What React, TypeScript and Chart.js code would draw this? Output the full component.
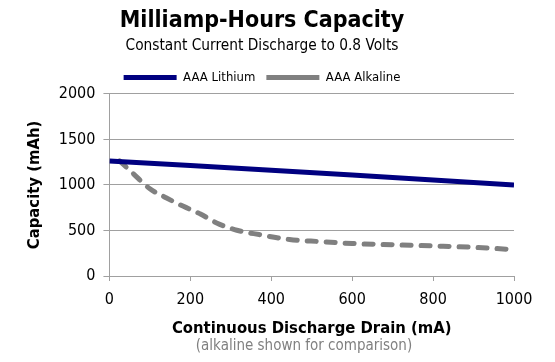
import React, { useEffect, useRef } from "react";
import { Chart, registerables } from "chart.js";

Chart.register(...registerables);

const lithiumDrain = [0, 200, 400, 600, 800, 1000];
const lithiumCapacity = [1263, 1213, 1163, 1110, 1055, 1000];

const alkalineDrain = [25, 60, 100, 140, 183, 225, 265, 315, 370, 445, 520, 600, 700, 800, 900, 1000];
const alkalineCapacity = [1265, 1120, 958, 860, 765, 680, 583, 503, 455, 401, 378, 357, 343, 330, 315, 290];

const yTicks = [0, 500, 1000, 1500, 2000];
const xTicks = [0, 200, 400, 600, 800, 1000];

const FONT = "'DejaVu Sans Condensed', 'DejaVu Sans', sans-serif";

export default function App() {
  const ref = useRef<HTMLCanvasElement | null>(null);

  useEffect(() => {
    if (!ref.current) return;
    const footnote = {
      id: "footnote",
      afterDraw(chart: any) {
        const ctx = chart.ctx;
        ctx.save();
        ctx.font = `15px ${FONT}`;
        ctx.fillStyle = "#808080";
        ctx.textAlign = "center";
        ctx.textBaseline = "middle";
        ctx.fillText("(alkaline shown for comparison)", 304, chart.height - 16);
        ctx.restore();
      },
    };
    const chart = new Chart(ref.current, {
      type: "line",
      data: {
        datasets: [
          {
            label: "AAA Lithium",
            data: lithiumDrain.map((x, i) => ({ x, y: lithiumCapacity[i] })),
            borderColor: "#000080",
            backgroundColor: "#000080",
            borderWidth: 5,
            pointRadius: 0,
            tension: 0,
          },
          {
            label: "AAA Alkaline",
            data: alkalineDrain.map((x, i) => ({ x, y: alkalineCapacity[i] })),
            borderColor: "#808080",
            backgroundColor: "#808080",
            borderWidth: 5,
            borderDash: [9, 10],
            borderCapStyle: "round",
            pointRadius: 0,
            cubicInterpolationMode: "monotone",
          },
        ],
      },
      options: {
        animation: false,
        responsive: false,
        maintainAspectRatio: false,
        layout: { padding: { left: 10, right: 41, top: 4, bottom: 23 } },
        plugins: {
          title: {
            display: true,
            text: "Milliamp-Hours Capacity",
            color: "#000",
            font: { family: FONT, size: 23, weight: "bold" },
            padding: { top: 3, bottom: 0 },
          },
          subtitle: {
            display: true,
            text: "Constant Current Discharge to 0.8 Volts",
            color: "#000",
            font: { family: FONT, size: 15.3 },
            padding: { top: 2, bottom: 5 },
          },
          legend: {
            display: true,
            position: "top",
            labels: {
              usePointStyle: true,
              pointStyle: "line",
              pointStyleWidth: 53,
              boxHeight: 14,
              color: "#000",
              font: { family: FONT, size: 13 },
              padding: 11,
            },
          },
          tooltip: { enabled: false },
        },
        scales: {
          x: {
            type: "linear",
            min: 0,
            max: 1000,
            afterBuildTicks: (axis: any) => {
              axis.ticks = xTicks.map((v) => ({ value: v }));
            },
            grid: {
              drawOnChartArea: false,
              drawTicks: true,
              tickLength: 5,
              color: "#a0a0a0",
            },
            border: { display: true, color: "#a0a0a0", width: 1 },
            ticks: {
              color: "#000",
              font: { family: FONT, size: 16 },
              padding: 9,
              maxRotation: 0,
              callback: (v: any) => String(v),
            },
            title: {
              display: true,
              text: "Continuous Discharge Drain (mA)",
              color: "#000",
              font: { family: FONT, size: 16.5, weight: "bold" },
              padding: { top: 1, bottom: 0 },
            },
          },
          y: {
            type: "linear",
            min: 0,
            max: 2000,
            afterBuildTicks: (axis: any) => {
              axis.ticks = yTicks.map((v) => ({ value: v }));
            },
            grid: {
              drawTicks: true,
              tickLength: 6,
              color: "#a0a0a0",
            },
            border: { display: true, color: "#a0a0a0", width: 1 },
            ticks: {
              color: "#000",
              font: { family: FONT, size: 16 },
              padding: 8,
              callback: (v: any) => String(v),
            },
            title: {
              display: true,
              text: "Capacity (mAh)",
              color: "#000",
              font: { family: FONT, size: 16.5, weight: "bold" },
              padding: { top: 15, bottom: 6 },
            },
          },
        },
      },
      plugins: [footnote],
    } as any);
    return () => chart.destroy();
  }, []);

  return (
    <div style={{ position: "fixed", left: 0, top: 0, width: 555, height: 362, background: "#fff" }}>
      <canvas ref={ref} width={555} height={362} style={{ width: 555, height: 362 }} />
    </div>
  );
}
